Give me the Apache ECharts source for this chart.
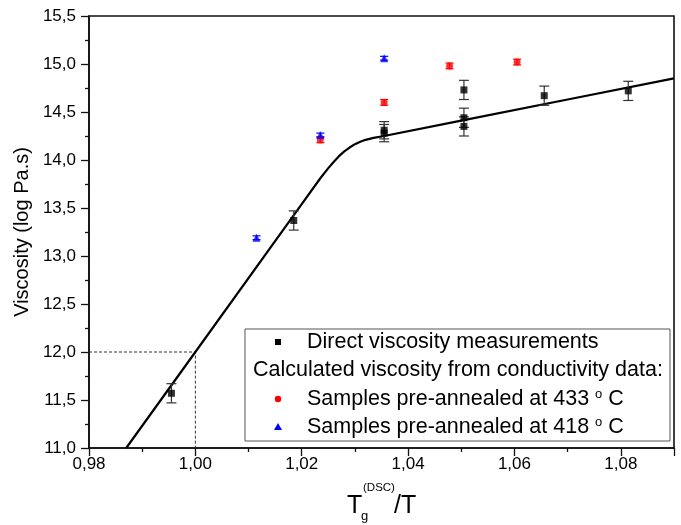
<!DOCTYPE html>
<html>
<head>
<meta charset="utf-8">
<script src="https://cdn.jsdelivr.net/npm/echarts@6/dist/echarts.min.js"></script>
<style>
  html, body { margin: 0; padding: 0; background: #fff; }
  #chart { width: 681px; height: 525px; }
</style>
</head>
<body>
<div id="chart"></div>
<script>
// Direct viscosity measurements (black squares), with error bar half-widths
var directX = [0.9955, 1.0185, 1.0355, 1.0355, 1.0505, 1.0505, 1.0505, 1.0656, 1.0814];
var directY = [11.57, 13.37, 14.31, 14.28, 14.73, 14.44, 14.35, 14.67, 14.72];
var directErr = [0.10, 0.10, 0.09, 0.09, 0.10, 0.10, 0.10, 0.10, 0.10];

// From conductivity, samples pre-annealed at 433 C (red circles)
var red433X = [1.0235, 1.0355, 1.0478, 1.0605];
var red433Y = [14.21, 14.60, 14.98, 15.02];
var red433Err = [0.03, 0.03, 0.03, 0.03];

// From conductivity, samples pre-annealed at 418 C (blue triangles)
var blue418X = [1.0115, 1.0235, 1.0355];
var blue418Y = [13.19, 14.26, 15.06];
var blue418Err = [0.02, 0.02, 0.02];

// model curve (dense around the knee)
var fitX = [0.987, 1.000, 1.020, 1.0235, 1.025, 1.026, 1.027, 1.028, 1.029, 1.030, 1.031, 1.032, 1.0335, 1.035, 1.050, 1.070, 1.090];
var fitY = [11.00, 12.00, 13.54, 13.81, 13.915, 13.98, 14.04, 14.09, 14.13, 14.165, 14.19, 14.21, 14.23, 14.245, 14.41, 14.63, 14.85];

// dashed guide at Tg/T = 1, log viscosity = 12
var guideX = [0.98, 1.00, 1.00];
var guideY = [12.0, 12.0, 11.0];

var xTicks = { min: 0.98, max: 1.09, interval: 0.02 };
var yTicks = { min: 11.0, max: 15.5, interval: 0.5 };

var FONT = '"Liberation Sans", Arial, sans-serif';

function pairs(xs, ys) {
	return xs.map(function(x, i) { return [x, ys[i]]; });
}
function errRows(xs, ys, es) {
	return xs.map(function(x, i) { return [x, ys[i] - es[i], ys[i] + es[i]]; });
}
function errorBar(color, capW, width) {
	return function(params, api) {
		var lo = api.coord([api.value(0), api.value(1)]);
		var hi = api.coord([api.value(0), api.value(2)]);
		var st = { stroke: color, lineWidth: width };
		return {
			type: 'group',
			children: [
				{ type: 'line', shape: { x1: lo[0], y1: lo[1], x2: hi[0], y2: hi[1] }, style: st },
				{ type: 'line', shape: { x1: lo[0] - capW / 2, y1: lo[1], x2: lo[0] + capW / 2, y2: lo[1] }, style: st },
				{ type: 'line', shape: { x1: hi[0] - capW / 2, y1: hi[1], x2: hi[0] + capW / 2, y2: hi[1] }, style: st }
			]
		};
	};
}
function comma(d) {
	return function(v) { return v.toFixed(d).replace('.', ','); };
}

var chart = echarts.init(document.getElementById('chart'));

var legendRows = [342, 370, 399, 427];
var legendTextX = 307;
var LF = 21.5;
var txt = { fontSize: LF, fontFamily: FONT, fill: '#000' };
var richDeg = {
	a: { fontSize: LF, fontFamily: FONT, fill: '#000' },
	s: { fontSize: 13, fontFamily: FONT, fill: '#000', verticalAlign: 'top' }
};

var option = {
	animation: false,
	backgroundColor: '#fff',
	grid: {
		left: 89, right: 7, top: 16, bottom: 77,
		show: true, borderColor: '#111', borderWidth: 1.6, backgroundColor: 'transparent'
	},
	xAxis: {
		type: 'value',
		min: xTicks.min, max: xTicks.max, interval: xTicks.interval,
		axisLine: { show: true, onZero: false, lineStyle: { color: '#111', width: 1.6 } },
		axisTick: { show: true, inside: false, length: 8, lineStyle: { color: '#111', width: 1.3 } },
		minorTick: { show: true, splitNumber: 2, length: 4, lineStyle: { color: '#111', width: 1.3 } },
		splitLine: { show: false },
		axisLabel: {
			margin: 8, fontSize: 17, fontFamily: FONT, color: '#000',
			showMaxLabel: false, formatter: comma(2)
		}
	},
	yAxis: {
		type: 'value',
		min: yTicks.min, max: yTicks.max, interval: yTicks.interval,
		name: 'Viscosity (log Pa.s)',
		nameLocation: 'middle', nameGap: 54, nameRotate: 90,
		nameTextStyle: { fontSize: 20, fontFamily: FONT, color: '#000' },
		axisLine: { show: true, onZero: false, lineStyle: { color: '#111', width: 1.6 } },
		axisTick: { show: true, inside: false, length: 8, lineStyle: { color: '#111', width: 1.3 } },
		minorTick: { show: true, splitNumber: 2, length: 4, lineStyle: { color: '#111', width: 1.3 } },
		splitLine: { show: false },
		axisLabel: { margin: 13, fontSize: 17, fontFamily: FONT, color: '#000', formatter: comma(1) }
	},
	series: [
		{
			type: 'line', data: pairs(guideX, guideY), symbol: 'none', silent: true,
			lineStyle: { color: '#333', width: 1, type: [3, 2] }
		},
		{
			type: 'line', data: pairs(fitX, fitY), symbol: 'none', smooth: false,
			lineStyle: { color: '#000', width: 2.2, join: 'round' }, z: 3
		},
		{
			type: 'custom', data: errRows(directX, directY, directErr),
			renderItem: errorBar('#333', 10, 1.2), z: 4
		},
		{
			type: 'custom', data: errRows(red433X, red433Y, red433Err),
			renderItem: errorBar('#ff0000', 8, 1.2), z: 4
		},
		{
			type: 'custom', data: errRows(blue418X, blue418Y, blue418Err),
			renderItem: errorBar('#0000ff', 8, 1.2), z: 4
		},
		{
			type: 'scatter', data: pairs(directX, directY), symbol: 'rect', symbolSize: 7,
			itemStyle: { color: '#000' }, z: 5
		},
		{
			type: 'scatter', data: pairs(red433X, red433Y), symbol: 'circle', symbolSize: 7,
			itemStyle: { color: '#ff0000' }, z: 5
		},
		{
			type: 'scatter', data: pairs(blue418X, blue418Y), symbol: 'triangle', symbolSize: 8,
			itemStyle: { color: '#0000ff' }, z: 6
		}
	],
	graphic: [
		// legend box
		{
			type: 'rect', shape: { x: 245, y: 329, width: 425, height: 112 },
			style: { fill: '#fff', stroke: '#555', lineWidth: 1 }, z: 10
		},
		{ type: 'rect', shape: { x: 275, y: legendRows[0] - 3, width: 6, height: 6 }, style: { fill: '#000' }, z: 11 },
		{ type: 'circle', shape: { cx: 278, cy: legendRows[2], r: 3.2 }, style: { fill: '#ff0000' }, z: 11 },
		{ type: 'polygon', shape: { points: [[278, legendRows[3] - 4], [282, legendRows[3] + 3], [274, legendRows[3] + 3]] }, style: { fill: '#0000ff' }, z: 11 },
		{
			type: 'text', x: legendTextX, y: legendRows[0], z: 11,
			style: Object.assign({ text: 'Direct viscosity measurements', verticalAlign: 'middle' }, txt)
		},
		{
			type: 'text', x: 253, y: legendRows[1], z: 11,
			style: Object.assign({ text: 'Calculated viscosity from conductivity data:', verticalAlign: 'middle' }, txt)
		},
		{
			type: 'text', x: legendTextX, y: legendRows[2], z: 11,
			style: Object.assign({ text: '{a|Samples pre-annealed at 433 }{s|o}{a| C}', verticalAlign: 'middle', rich: richDeg }, txt)
		},
		{
			type: 'text', x: legendTextX, y: legendRows[3], z: 11,
			style: Object.assign({ text: '{a|Samples pre-annealed at 418 }{s|o}{a| C}', verticalAlign: 'middle', rich: richDeg }, txt)
		},
		// x axis title: Tg(DSC)/T
		{ type: 'text', x: 347, y: 494, style: { text: 'T', fontSize: 25, fontFamily: FONT, fill: '#000', verticalAlign: 'top' } },
		{ type: 'text', x: 363, y: 482, style: { text: '(DSC)', fontSize: 11.5, fontFamily: FONT, fill: '#000', verticalAlign: 'top' } },
		{ type: 'text', x: 361, y: 510, style: { text: 'g', fontSize: 13, fontFamily: FONT, fill: '#000', verticalAlign: 'top' } },
		{ type: 'text', x: 394, y: 494, style: { text: '/T', fontSize: 25, fontFamily: FONT, fill: '#000', verticalAlign: 'top' } }
	]
};

chart.setOption(option);
</script>
</body>
</html>
